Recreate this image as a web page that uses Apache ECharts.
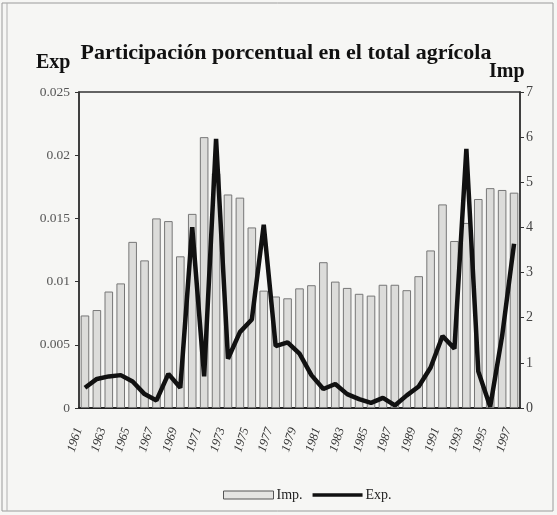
<!DOCTYPE html>
<html><head><meta charset="utf-8">
<script src="https://cdn.jsdelivr.net/npm/echarts@6/dist/echarts.min.js"></script>
<style>html,body{margin:0;padding:0;background:#f6f6f4}#c{width:557px;height:515px}</style>
</head><body><div id="c"></div>
<script>
const years = ['1961','1962','1963','1964','1965','1966','1967','1968','1969','1970','1971','1972','1973','1974','1975','1976','1977','1978','1979','1980','1981','1982','1983','1984','1985','1986','1987','1988','1989','1990','1991','1992','1993','1994','1995','1996','1997'];
const impValues = [2.05,2.17,2.58,2.76,3.68,3.27,4.2,4.14,3.36,4.3,6.0,5.2,4.73,4.66,4.0,2.6,2.47,2.43,2.65,2.72,3.23,2.8,2.66,2.53,2.49,2.73,2.73,2.61,2.92,3.49,4.51,3.7,4.1,4.63,4.87,4.83,4.77];
const expValues = [0.0016,0.0023,0.0025,0.0026,0.0021,0.0011,0.0006,0.0027,0.0016,0.0143,0.0025,0.0213,0.0039,0.0060,0.0070,0.0145,0.0049,0.0052,0.0043,0.0026,0.0015,0.0019,0.0011,0.0007,0.0004,0.0008,0.0002,0.0010,0.0017,0.0032,0.0057,0.0047,0.0205,0.0029,0.0001,0.0057,0.0130];
const leftTicks = ['0','0.005','0.01','0.015','0.02','0.025'];
const serif = '"Liberation Serif", "DejaVu Serif", serif';
const chart = echarts.init(document.getElementById('c'));
chart.setOption({
  backgroundColor: '#f6f6f4',
  animation: false,
  graphic: [
    {type:'rect', shape:{x:2,y:3,width:551,height:508}, style:{fill:'none', stroke:'#9a9a9a', lineWidth:1}},
    {type:'line', shape:{x1:7,y1:3,x2:7,y2:511}, style:{stroke:'#b0b0b0', lineWidth:1}},
    {type:'text', left:36, top:53, style:{text:'Exp', font:'bold 20px '+serif, fill:'#111'}},
    {type:'text', left:489, top:62, style:{text:'Imp', font:'bold 20px '+serif, fill:'#111'}}
  ],
  title: {
    text: 'Participación porcentual en el total agrícola',
    left: 281, textAlign: 'center', top: 37,
    textStyle: {fontFamily: serif, fontWeight: 'bold', fontSize: 22, color: '#111'}
  },
  legend: {
    top: 483, left: 218, itemGap: 10,
    textStyle: {fontFamily: serif, fontSize: 14, color: '#222', padding:[0,0,0,-2]},
    data: [
      {name: 'Imp.', icon: 'rect', itemStyle: {color: '#e4e4e2', borderColor: '#555', borderWidth: 1}},
      {name: 'Exp.', icon: 'path://M0,0L54,0L54,4L0,4Z', itemStyle: {color: '#111', borderWidth: 0}}
    ],
    itemWidth: 50, itemHeight: 8
  },
  grid: {left: 79, right: 37, top: 92, bottom: 107, show: true, borderColor: '#333', borderWidth: 1.5, backgroundColor: 'transparent'},
  xAxis: {
    type: 'category', data: years,
    axisLine: {lineStyle: {color: '#222', width: 2}},
    axisTick: {show: false},
    axisLabel: {interval: 1, rotate: 72, margin: 22, verticalAlign: 'bottom', fontFamily: serif, fontSize: 12.5, fontStyle: 'italic', color: '#333'}
  },
  yAxis: [
    {type: 'value', min: 0, max: 0.025, interval: 0.005, position: 'left',
     axisLine: {show: true, lineStyle: {color: '#333', width: 1.5}},
     axisTick: {show: true, length: 4, lineStyle: {color: '#333'}},
     splitLine: {show: false},
     axisLabel: {formatter: function(v){ const i = Math.round(v/0.005); return leftTicks[i]; }, fontFamily: serif, fontSize: 13.5, color: '#555', margin: 9}
    },
    {type: 'value', min: 0, max: 7, interval: 1, position: 'right',
     axisLine: {show: true, lineStyle: {color: '#333', width: 1.5}},
     axisTick: {show: true, length: 4, lineStyle: {color: '#333'}},
     splitLine: {show: false},
     axisLabel: {fontFamily: serif, fontSize: 14, color: '#444', margin: 6}
    }
  ],
  series: [
    {name: 'Imp.', type: 'bar', yAxisIndex: 1, data: impValues, barCategoryGap: '28%',
     itemStyle: {color: '#dcdcda', borderColor: '#777', borderWidth: 1}},
    {name: 'Exp.', type: 'line', yAxisIndex: 0, data: expValues, symbol: 'none', smooth: false,
     lineStyle: {color: '#111', width: 4.5}, itemStyle: {color: '#111'}}
  ]
});
</script></body></html>
